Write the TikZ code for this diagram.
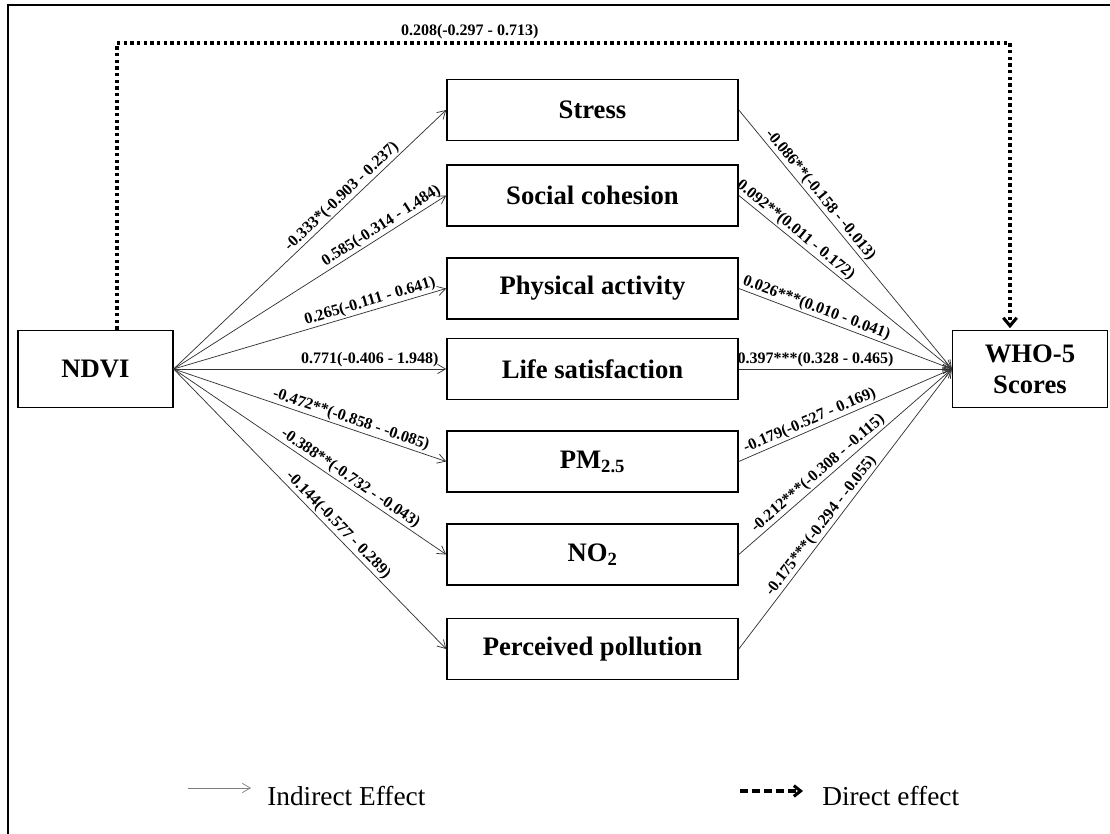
\documentclass[tikz,border=0pt]{standalone}
\usepackage{fontspec}
\setmainfont{Liberation Serif}
\usetikzlibrary{arrows.meta}

\tikzset{
  varbox/.style={draw, line width=1.2pt, minimum width=218.25pt, minimum height=45.75pt, inner sep=0pt, font=\fontsize{20}{23}\selectfont\bfseries},
  endbox/.style={draw, line width=1.2pt, minimum width=116pt, minimum height=58pt, inner sep=0pt, align=center, font=\fontsize{20}{23}\selectfont\bfseries},
  effect/.style={draw=black!80, line width=0.55pt, -{Straight Barb[length=6pt,width=7pt]}},
  coef/.style={sloped, above, inner sep=1pt, font=\fontsize{12}{14}\selectfont\bfseries},
  direct/.style={line width=2.3pt, dash pattern=on 2.4pt off 2.6pt, -{Straight Barb[length=6pt,width=10pt]}},
  legtext/.style={inner sep=0pt, font=\fontsize{20.5}{23}\selectfont}
}

\begin{document}
\begin{tikzpicture}[x=0.75pt,y=0.75pt]
\useasboundingbox (0,0) rectangle (1110,834);

%Frame
\draw [line width=2.2pt] (8,0) -- (8,829) -- (1110,829) ;

% Text Node
\node [endbox] (ndvi) at (95.5,465) {NDVI};
% Text Node
\node [endbox] (who) at (1030,465) {WHO-5\\Scores};

% Text Node
\node [varbox] (stress) at (592.5,724) {Stress};
\node [varbox] (cohesion) at (592.5,638.5) {Social cohesion};
\node [varbox] (activity) at (592.5,545.5) {Physical activity};
\node [varbox] (satisfaction) at (592.5,465) {Life satisfaction};
\node [varbox] (pm) at (592.5,372.5) {PM\textsubscript{2.5}};
\node [varbox] (notwo) at (592.5,279.5) {NO\textsubscript{2}};
\node [varbox] (perceived) at (592.5,185) {Perceived pollution};

%Straight Lines (NDVI -> mediators)
\draw [effect] (ndvi.east) -- node [coef, pos=0.64] {-0.333*(-0.903 - 0.237)} (stress.west) ;
\draw [effect] (ndvi.east) -- node [coef, pos=0.78] {0.585(-0.314 - 1.484)} (cohesion.west) ;
\draw [effect] (ndvi.east) -- node [coef, pos=0.73] {0.265(-0.111 - 0.641)} (activity.west) ;
\draw [effect] (ndvi.east) -- node [coef, pos=0.72] {0.771(-0.406 - 1.948)} (satisfaction.west) ;
\draw [effect] (ndvi.east) -- node [coef, pos=0.64] {-0.472**(-0.858 - -0.085)} (pm.west) ;
\draw [effect] (ndvi.east) -- node [coef, pos=0.63] {-0.388**(-0.732 - -0.043)} (notwo.west) ;
\draw [effect] (ndvi.east) -- node [coef, pos=0.58] {-0.144(-0.577 - 0.289)} (perceived.west) ;

%Straight Lines (mediators -> WHO-5)
\draw [effect] (stress.east) -- node [coef, pos=0.35] {-0.086**(-0.158 - -0.013)} (who.west) ;
\draw [effect] (cohesion.east) -- node [coef, pos=0.24] {0.092**(0.011 - 0.172)} (who.west) ;
\draw [effect] (activity.east) -- node [coef, pos=0.35] {0.026***(0.010 - 0.041)} (who.west) ;
\draw [effect] (satisfaction.east) -- node [coef, pos=0.36] {0.397***(0.328 - 0.465)} (who.west) ;
\draw [effect] (pm.east) -- node [coef, pos=0.35] {-0.179(-0.527 - 0.169)} (who.west) ;
\draw [effect] (notwo.east) -- node [coef, pos=0.40] {-0.212***(-0.308 - -0.115)} (who.west) ;
\draw [effect] (perceived.east) -- node [coef, pos=0.42] {-0.175***(-0.294 - -0.055)} (who.west) ;

%Direct effect
\coordinate (dl) at (117,791) ;
\coordinate (dr) at (1010,791) ;
\draw [direct] (ndvi.north -| dl) -- (dl) -- node [above, pos=0.395, inner sep=2pt, font=\fontsize{12}{14}\selectfont\bfseries] (directval) {0.208(-0.297 - 0.713)} (dr) -- ([yshift=1pt]who.north -| dr) ;

%Legend
\coordinate (ia) at (188,46) ;
\coordinate (ib) at (251,46) ;
\draw [effect, draw=gray] (ia) -- (ib) ;
\node [legtext, anchor=base west] (indirect) at (267,28) {Indirect Effect};
\coordinate (da) at (740,43) ;
\coordinate (db) at (803,43) ;
\draw [line width=2.3pt, dash pattern=on 6pt off 3pt, -{Straight Barb[length=5pt,width=8pt]}] (da) -- (db) ;
\node [legtext, anchor=base west] (directlbl) at (822,28) {Direct effect};

\end{tikzpicture}
\end{document}
